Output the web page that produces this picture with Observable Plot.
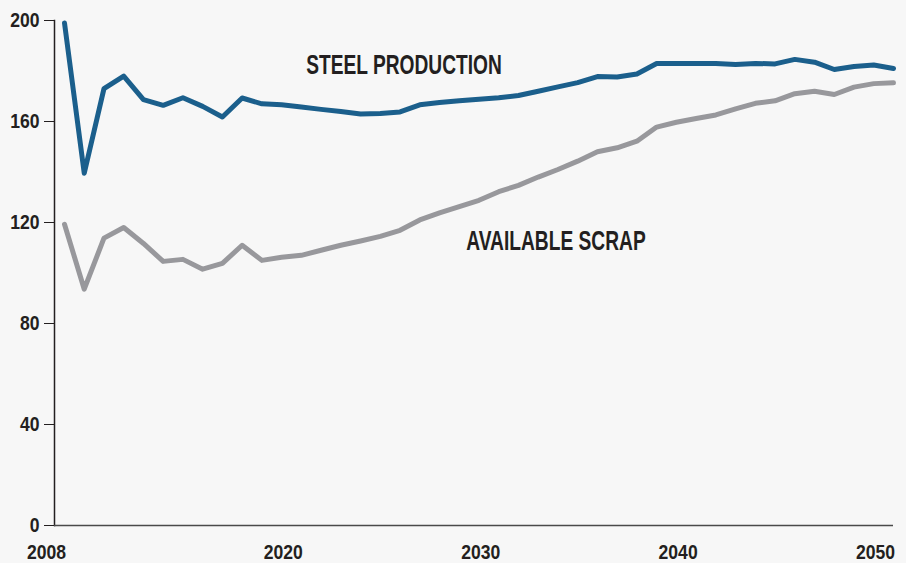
<!DOCTYPE html>
<html><head><meta charset="utf-8">
<script src="https://cdn.jsdelivr.net/npm/d3@7"></script>
<script src="https://cdn.jsdelivr.net/npm/@observablehq/plot@0.6"></script>
<style>
html,body{margin:0;padding:0;background:#f7f7f7;}
#chart svg{display:block;}
</style></head><body><div id="chart"></div>
<script>
const years = [2008,2009,2010,2011,2012,2013,2014,2015,2016,2017,2018,2019,2020,2021,2022,2023,2024,2025,2026,2027,2028,2029,2030,2031,2032,2033,2034,2035,2036,2037,2038,2039,2040,2041,2042,2043,2044,2045,2046,2047,2048,2049,2050];
const steelProduction = [199,139.5,173,178,168.7,166.4,169.4,166,161.8,169.3,167,166.6,165.7,164.8,164,163,163.2,163.8,166.6,167.5,168.2,168.8,169.4,170.3,172,173.7,175.4,177.8,177.6,178.8,183,183,183,183,182.6,183,182.8,184.6,183.5,180.6,181.8,182.4,181];
const availableScrap = [119.3,93.6,113.8,118,111.7,104.6,105.4,101.5,103.8,111,105,106.2,107,109,111,112.7,114.5,116.9,121,123.8,126.3,128.8,132.2,134.7,138,141,144.3,148,149.6,152.2,157.8,159.7,161.2,162.6,165,167.2,168.2,171,172,170.7,173.6,175,175.3];
const yTicks = [0,40,80,120,160,200];
const xTicks = [2008,2020,2030,2040,2050];
const seriesLabels = ["STEEL PRODUCTION","AVAILABLE SCRAP"];
const labelYears = [2025.2,2032.9];
const labelValues = [182.2,112.8];

const FONT = '"Liberation Sans",Arial,sans-serif';
const steelRows = years.map((y,i)=>({year:y,value:steelProduction[i]}));
const scrapRows = years.map((y,i)=>({year:y,value:availableScrap[i]}));
const annotations = seriesLabels.map((t,i)=>({label:t,year:labelYears[i],value:labelValues[i]}));

const chart = Plot.plot({
  width:906, height:563,
  marginLeft:54, marginRight:13, marginTop:20, marginBottom:38,
  style:{background:"#f7f7f7", fontFamily:FONT, fontWeight:"bold", color:"#231f20"},
  x:{domain:[2008,2050], insetLeft:10},
  y:{domain:[0,200]},
  marks:[
    Plot.axisY({ticks:yTicks, tickSize:10, tickPadding:5, fontSize:19.5, label:null, className:"cond-axis"}),
    Plot.axisX({ticks:xTicks, tickSize:0, tickPadding:20, fontSize:19.5, label:null, tickFormat:d=>String(d), dx:-18, className:"cond-axis"}),
    Plot.frame({anchor:"left", stroke:"#231f20", strokeWidth:1.5}),
    Plot.ruleY([0], {stroke:"#4a4a4a", strokeWidth:1.5}),
    Plot.lineY(scrapRows, {x:"year", y:"value", stroke:"#98989c", strokeWidth:5}),
    Plot.lineY(steelRows, {x:"year", y:"value", stroke:"#1b5f8c", strokeWidth:5}),
    Plot.text(annotations, {x:"year", y:"value", text:"label", fontSize:28, fill:"#231f20", fontWeight:"bold", className:"cond-label"})
  ]
});
document.getElementById("chart").append(chart);
// condense glyphs horizontally (keeps anchor) using textLength
function condense(sel, s){
  chart.querySelectorAll(sel).forEach(t=>{
    const w = t.getComputedTextLength();
    if (w > 0) {
      t.setAttribute("textLength", (w*s).toFixed(2));
      t.setAttribute("lengthAdjust", "spacingAndGlyphs");
    }
  });
}
condense(".cond-axis text", 0.9);
condense(".cond-label text", 0.685);
</script></body></html>
